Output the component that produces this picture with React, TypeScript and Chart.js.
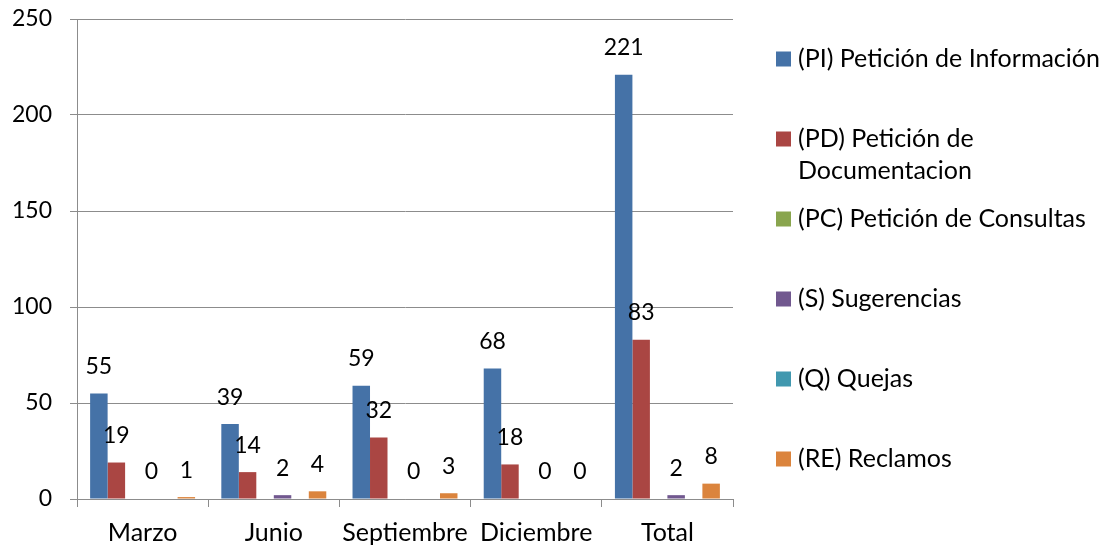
import React, { useEffect, useRef } from 'react';
import { Chart, registerables } from 'chart.js';

Chart.register(...registerables);

const categories = ['Marzo', 'Junio', 'Septiembre', 'Diciembre', 'Total'];
const seriesNames = [
  '(PI) Petición de Información',
  '(PD) Petición de Documentacion',
  '(PC) Petición de Consultas',
  '(S) Sugerencias',
  '(Q) Quejas',
  '(RE) Reclamos',
];
const piValues = [55, 39, 59, 68, 221];
const pdValues = [19, 14, 32, 18, 83];
const pcValues = [0, 0, 0, 0, 0];
const sValues = [0, 2, 0, 0, 2];
const qValues = [0, 0, 0, 0, 0];
const reValues = [1, 4, 3, 0, 8];
const seriesColors = ['#4572A7', '#AA4643', '#89A54E', '#71588F', '#4198AF', '#DB843D'];
const labelledSeries = [true, true, false, true, false, true];
const yMin = 0;
const yMax = 250;
const yStep = 50;

const FONT = 'Lato, "Open Sans", sans-serif';
const TEXT_SIZE = 25;
const NUM_SIZE = 23;
const GRID = '#8c8c8c';

const valueLabels = {
  id: 'valueLabels',
  afterDatasetsDraw(chart: any) {
    const ctx = chart.ctx;
    ctx.save();
    ctx.font = `${NUM_SIZE}px ${FONT}`;
    ctx.fillStyle = '#000';
    ctx.textAlign = 'center';
    ctx.textBaseline = 'middle';
    chart.data.datasets.forEach((ds: any, i: number) => {
      if (!labelledSeries[i]) return;
      const meta = chart.getDatasetMeta(i);
      meta.data.forEach((el: any, j: number) => {
        ctx.fillText(String(ds.data[j]), el.x, el.y - 27);
      });
    });
    ctx.restore();
  },
};

const sideLegend = {
  id: 'sideLegend',
  afterDraw(chart: any) {
    const ctx = chart.ctx;
    const area = chart.chartArea;
    const n = chart.data.datasets.length;
    const step = 80;
    const lineH = 32;
    const cy0 = (area.top + area.bottom) / 2 - ((n - 1) * step) / 2;
    const boxX = area.right + 43;
    const textX = area.right + 65;
    const maxW = chart.width - textX;
    ctx.save();
    ctx.font = `${TEXT_SIZE}px ${FONT}`;
    ctx.textAlign = 'left';
    ctx.textBaseline = 'middle';
    chart.data.datasets.forEach((ds: any, i: number) => {
      const cy = cy0 + i * step;
      ctx.fillStyle = ds.backgroundColor;
      ctx.fillRect(boxX, cy - 7.5, 15, 15);
      const words = String(ds.label).split(' ');
      const lines: string[] = [];
      let cur = '';
      words.forEach((w) => {
        const t = cur ? cur + ' ' + w : w;
        if (cur && ctx.measureText(t).width > maxW) {
          lines.push(cur);
          cur = w;
        } else cur = t;
      });
      if (cur) lines.push(cur);
      ctx.fillStyle = '#000';
      lines.forEach((l, k) => ctx.fillText(l, textX, cy + k * lineH));
    });
    ctx.restore();
  },
};

export default function App() {
  const ref = useRef<HTMLCanvasElement | null>(null);
  useEffect(() => {
    if (!ref.current) return;
    const values = [piValues, pdValues, pcValues, sValues, qValues, reValues];
    const chart = new Chart(ref.current, {
      type: 'bar',
      data: {
        labels: categories,
        datasets: values.map((v, i) => ({
          label: seriesNames[i],
          data: v,
          backgroundColor: seriesColors[i],
          borderWidth: 0,
          categoryPercentage: 0.8,
          barPercentage: 1.0,
        })),
      },
      options: {
        responsive: false,
        animation: false,
        layout: { padding: { top: 19, right: 375, left: 0, bottom: 0 } },
        plugins: { legend: { display: false }, tooltip: { enabled: false } },
        scales: {
          x: {
            offset: true,
            afterFit: (s: any) => { s.height = 49; },
            grid: { drawOnChartArea: false, drawTicks: true, tickLength: 8, offset: true, color: GRID },
            border: { display: true, color: GRID },
            ticks: { color: '#000', padding: 11, font: { family: FONT, size: TEXT_SIZE }, maxRotation: 0, autoSkip: false },
          },
          y: {
            min: yMin,
            max: yMax,
            afterFit: (s: any) => { s.width = 77; s.paddingTop = 0; s.paddingBottom = 0; },
            grid: { color: GRID, drawTicks: true, tickLength: 7 },
            border: { display: true, color: GRID },
            ticks: { stepSize: yStep, color: '#000', padding: 18, font: { family: FONT, size: NUM_SIZE } },
          },
        },
      },
      plugins: [valueLabels, sideLegend],
    });
    return () => chart.destroy();
  }, []);
  return (
    <div style={{ position: 'fixed', left: 0, top: 0, width: 1108, height: 548, background: '#fff' }}>
      <canvas ref={ref} width={1108} height={548} />
    </div>
  );
}
